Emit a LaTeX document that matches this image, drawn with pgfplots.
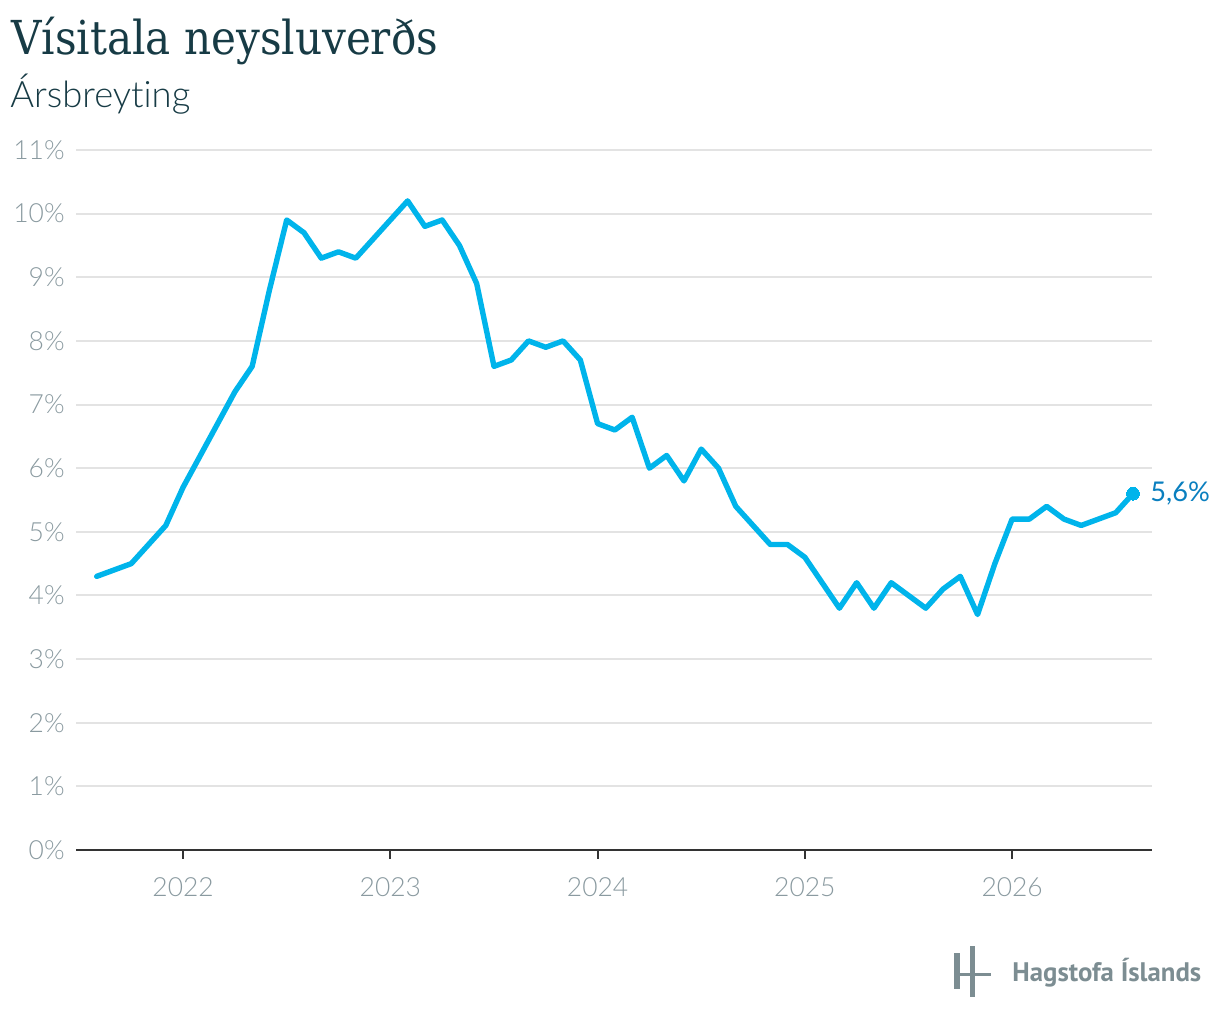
\documentclass[border=0pt]{standalone}
\usepackage{pgfplots}
\pgfplotsset{compat=1.18}
\usepackage{fontspec}
\setmainfont{Lato}
\newfontfamily\latolight{Lato Light}[Ligatures=CommonOff]
\newfontfamily\titlefont{DejaVu Serif Condensed}
\newfontfamily\logofont{PT Sans}
\definecolor{linecyan}{HTML}{00B4EB}
\definecolor{labelblue}{HTML}{0A7FBF}
\definecolor{tickgray}{HTML}{8A9AA0}
\definecolor{titleteal}{HTML}{173B45}
\definecolor{gridgray}{HTML}{E3E3E3}
\definecolor{axisdark}{HTML}{333333}
\definecolor{logogray}{HTML}{7C8D92}
\begin{document}
\begin{tikzpicture}
\path[use as bounding box] (0,0) rectangle (610pt,511pt);
\node[anchor=base west, inner sep=0, text=titleteal, font=\titlefont\fontsize{23.4}{26}\selectfont] at (5.5pt,483.5pt) {Vísitala neysluverðs};
\node[anchor=base west, inner sep=0, text=titleteal, font=\latolight\fontsize{18.2}{20}\selectfont] at (5pt,457pt) {Ársbreyting};
\begin{axis}[
  at={(38pt,86pt)}, anchor=south west,
  scale only axis, width=538pt, height=350pt,
  xmin=-6.2, xmax=56.1, ymin=0, ymax=11,
  axis lines*=left,
  y axis line style={draw=none},
  x axis line style={draw=axisdark, line width=1.1pt, -},
  xtick={0,12,24,36,48},
  xticklabels={2022,2023,2024,2025,2026},
  ytick={0,1,2,3,4,5,6,7,8,9,10,11},
  yticklabels={0\%,1\%,2\%,3\%,4\%,5\%,6\%,7\%,8\%,9\%,10\%,11\%},
  tick align=outside,
  major tick length=4.5pt,
  xtick style={draw=axisdark, line width=1.1pt},
  ytick style={draw=none},
  ymajorgrids, grid style={draw=gridgray, line width=1pt},
  ticklabel style={font=\latolight\fontsize{13.2}{15}\selectfont, text=tickgray, inner sep=0pt},
  xticklabel style={anchor=north, yshift=-9pt},
  yticklabel style={anchor=east, xshift=-1pt},
  clip=false,
]
\addplot[draw=linecyan, line width=2.7pt, line join=round, line cap=round] coordinates {
(-5,4.3) (-4,4.4) (-3,4.5) (-2,4.8) (-1,5.1) (0,5.7) (1,6.2) (2,6.7) (3,7.2) (4,7.6)
(5,8.8) (6,9.9) (7,9.7) (8,9.3) (9,9.4) (10,9.3) (11,9.6) (12,9.9) (13,10.2) (14,9.8)
(15,9.9) (16,9.5) (17,8.9) (18,7.6) (19,7.7) (20,8.0) (21,7.9) (22,8.0) (23,7.7) (24,6.7)
(25,6.6) (26,6.8) (27,6.0) (28,6.2) (29,5.8) (30,6.3) (31,6.0) (32,5.4) (33,5.1) (34,4.8)
(35,4.8) (36,4.6) (37,4.2) (38,3.8) (39,4.2) (40,3.8) (41,4.2) (42,4.0) (43,3.8) (44,4.1)
(45,4.3) (46,3.7) (47,4.5) (48,5.2) (49,5.2) (50,5.4) (51,5.2) (52,5.1) (53,5.2) (54,5.3)
(55,5.6)};
\addplot[draw=none, mark=*, mark size=3.2pt, mark options={fill=linecyan, draw=linecyan, line width=0pt}] coordinates {(55,5.6)};
\node[anchor=west, inner sep=0, text=labelblue, font=\fontsize{13.6}{15}\selectfont, xshift=8.5pt] at (axis cs:55,5.6) {5,6\%};
\end{axis}
% logo
\fill[logogray] (477pt,16.5pt) rectangle (480pt,34.5pt);
\fill[logogray] (485pt,12.5pt) rectangle (487.5pt,38pt);
\fill[logogray] (477pt,23pt) rectangle (495.5pt,24.5pt);
\node[anchor=base west, inner sep=0, text=logogray, font=\logofont\bfseries\fontsize{13.4}{15}\selectfont] at (506pt,20pt) {Hagstofa Íslands};
\end{tikzpicture}
\end{document}
